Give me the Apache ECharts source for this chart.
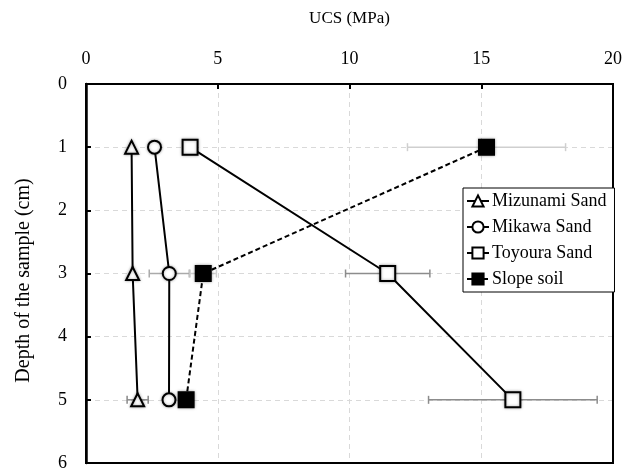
<!DOCTYPE html>
<html>
<head>
<meta charset="utf-8">
<script src="https://cdn.jsdelivr.net/npm/echarts@6/dist/echarts.min.js"></script>
<style>html,body{margin:0;padding:0;background:#fff;}#c{width:644px;height:474px;}</style>
</head>
<body>
<div id="c"></div>
<script>
const depths = [1, 3, 5];
const mizunami = [1.73, 1.77, 1.96];
const mizunamiErr = [0, 0, 0.4];
const mikawa = [2.6, 3.16, 3.15];
const mikawaErr = [0, 0.76, 0];
const toyoura = [3.95, 11.45, 16.2];
const toyouraErr = [0, 1.6, 3.2];
const slope = [15.2, 4.45, 3.8];
const slopeErr = [3.0, 0.5, 0];
const xTicks = [0, 5, 10, 15, 20];
const yTicks = [0, 1, 2, 3, 4, 5, 6];

const FONT = '"Liberation Serif", "Times New Roman", serif';
const chart = echarts.init(document.getElementById('c'));

function pairs(vals){ return vals.map((v,i)=>[v, depths[i]]); }
function errData(vals, errs){ return vals.map((v,i)=>[v, depths[i], errs[i]]).filter(d=>d[2]>0); }

function errSeries(vals, errs, color){
  return {
    type: 'custom',
    z: 1,
    silent: true,
    data: errData(vals, errs),
    renderItem: function(params, api){
      const x = api.value(0), y = api.value(1), e = api.value(2);
      const p1 = api.coord([x - e, y]);
      const p2 = api.coord([x + e, y]);
      const st = {stroke: color, lineWidth: 1.5};
      return {type:'group', children:[
        {type:'line', shape:{x1:p1[0], y1:p1[1], x2:p2[0], y2:p2[1]}, style: st},
        {type:'line', shape:{x1:p1[0], y1:p1[1]-4, x2:p1[0], y2:p1[1]+4}, style: st},
        {type:'line', shape:{x1:p2[0], y1:p2[1]-4, x2:p2[0], y2:p2[1]+4}, style: st}
      ]};
    }
  };
}

function lineSeries(name, vals, symbol, size, dashed){
  return {
    name: name,
    type: 'line',
    z: 3,
    data: pairs(vals),
    symbol: symbol,
    symbolSize: size,
    lineStyle: {color:'#000', width: 2, type: dashed ? [5,3] : 'solid'},
    itemStyle: {color: '#000', borderColor:'#000', borderWidth: 2,
      shadowBlur: 3, shadowColor: 'rgba(0,0,0,0.35)'},
    emphasis: {disabled: true},
    animation: false
  };
}

const option = {
  animation: false,
  backgroundColor: '#fff',
  grid: {left: 86, right: 31, top: 84, bottom: 11, show: false},
  legend: {
    left: 463, top: 188,
    orient: 'vertical',
    backgroundColor: '#fff',
    borderColor: '#000',
    borderWidth: 1,
    borderRadius: 0,
    padding: [4, 8, 4, 3],
    itemGap: 8,
    itemWidth: 22,
    itemHeight: 14,
    textStyle: {fontFamily: FONT, fontSize: 18, color: '#000', padding: [0,0,0,-2]},
    data: ['Mizunami Sand', 'Mikawa Sand', 'Toyoura Sand', 'Slope soil']
  },
  xAxis: {
    type: 'value',
    position: 'top',
    min: 0, max: 20, interval: 5,
    name: 'UCS (MPa)',
    nameLocation: 'middle',
    nameGap: 57,
    nameTextStyle: {fontFamily: FONT, fontSize: 17, color: '#000'},
    axisLine: {show: true, onZero: false, lineStyle: {color:'#000', width: 2}},
    axisTick: {show: true, inside: true, length: 5, lineStyle: {color:'#000', width: 2}},
    axisLabel: {fontFamily: FONT, fontSize: 18, color: '#000', margin: 16,
      formatter: v => xTicks.includes(v) ? String(v) : ''},
    splitLine: {show: true, lineStyle: {color: '#d9d9d9', type: [5,4], width: 1}}
  },
  yAxis: {
    type: 'value',
    inverse: true,
    min: 0, max: 6, interval: 1,
    name: 'Depth of the sample (cm)',
    nameLocation: 'middle',
    nameGap: 52,
    nameTextStyle: {fontFamily: FONT, fontSize: 20, color: '#000', padding: [0, 14, 0, 0]},
    axisLine: {show: true, onZero: false, lineStyle: {color:'#000', width: 2.5}},
    axisTick: {show: true, inside: true, length: 5, lineStyle: {color:'#000', width: 2}},
    axisLabel: {fontFamily: FONT, fontSize: 18, color: '#000', margin: 19,
      formatter: v => yTicks.includes(v) ? String(v) : ''},
    splitLine: {show: true, lineStyle: {color: '#d9d9d9', type: [5,4], width: 1}}
  },
  series: [
    errSeries(mizunami, mizunamiErr, '#888'),
    errSeries(mikawa, mikawaErr, '#aaa'),
    errSeries(toyoura, toyouraErr, '#8c8c8c'),
    errSeries(slope, slopeErr, '#cfcfcf'),
    lineSeries('Mizunami Sand', mizunami, 'emptyTriangle', 13, false),
    lineSeries('Mikawa Sand', mikawa, 'emptyCircle', 13, false),
    lineSeries('Toyoura Sand', toyoura, 'emptyRect', 15, false),
    lineSeries('Slope soil', slope, 'rect', 15, true),
    {
      type: 'custom', z: 0, silent: true, data: [[0,0]],
      renderItem: function(params, api){
        const a = api.coord([0,0]), b = api.coord([20,6]);
        return {type:'rect', shape:{x:a[0], y:a[1], width:b[0]-a[0], height:b[1]-a[1]},
          style:{fill:'none', stroke:'#000', lineWidth:2}};
      }
    }
  ]
};
chart.setOption(option);
</script>
</body>
</html>
